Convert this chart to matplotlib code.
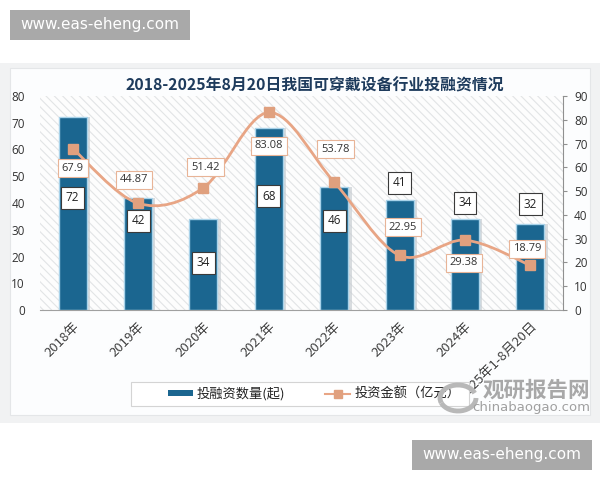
import numpy as np
import matplotlib
matplotlib.use('Agg')
import matplotlib.pyplot as plt
from matplotlib.path import Path
from matplotlib.patches import PathPatch, Rectangle, Arc
from matplotlib.lines import Line2D

plt.rcParams['font.family'] = ['Noto Sans CJK SC', 'DejaVu Sans']
plt.rcParams['hatch.color'] = '#e2e4e6'
plt.rcParams['hatch.linewidth'] = 0.8

# data
years = ['2018年', '2019年', '2020年', '2021年', '2022年', '2023年', '2024年', '2025年1-8月20日']
deals = [72, 42, 34, 68, 46, 41, 34, 32]
amount = [67.9, 44.87, 51.42, 83.08, 53.78, 22.95, 29.38, 18.79]
title = '2018-2025年8月20日我国可穿戴设备行业投融资情况'

BAR = '#1b6690'
LINE = '#e8a585'
MARK = '#e0a07e'
NUMFONT = 'Open Sans'

fig = plt.figure(figsize=(6, 4.8), dpi=100)
fig.patch.set_facecolor('white')

def fig_rect(x0, y0, x1, y1, **kw):
    # pixel box (top-left origin) -> figure rectangle
    r = Rectangle((x0 / 600, 1 - y1 / 480), (x1 - x0) / 600, (y1 - y0) / 480,
                  transform=fig.transFigure, **kw)
    fig.patches.append(r)
    return r

# outer panel and shadow
fig_rect(0, 63, 600, 423, facecolor='#f1f2f3', edgecolor='none', zorder=-3)
fig_rect(10, 68, 590, 415, facecolor='#fcfdfe', edgecolor='#e4e6e8', linewidth=0.8, zorder=-2)

ax = fig.add_axes([40 / 600, 1 - 310 / 480, 523 / 600, 214 / 480])
ax2 = ax.twinx()

x = np.arange(len(years))
ax.patch.set_facecolor('#fdfdfd')
ax.patch.set_hatch('\\\\\\\\')
ax.patch.set_edgecolor('#e2e4e6')
ax.patch.set_linewidth(0)

# bars with a faint shadow
ax.bar(x + 0.05, deals, width=0.43, color='#c9ced3', zorder=1, alpha=0.7)
ax.bar(x, deals, width=0.43, color=BAR, edgecolor='#a9d3ea', linewidth=1.0, zorder=2)
ax.set_ylim(0, 80)
ax.set_xlim(-0.5, len(years) - 0.5)
ax.set_yticks(range(0, 81, 10))
ax.set_yticklabels([str(v) for v in range(0, 81, 10)], family=NUMFONT)
ax.tick_params(axis='y', length=0, pad=11, labelsize=8.5, colors='#333333')
ax.set_xticks(x)
ax.set_xticklabels(years, rotation=45, ha='right', va='top', rotation_mode='anchor',
                   fontsize=9.5, color='#404040')
ax.tick_params(axis='x', length=0, pad=7)
for s in ['top', 'right', 'left']:
    ax.spines[s].set_visible(False)
ax.spines['bottom'].set_color('#a0a0a0')

# smooth line (catmull-rom style bezier through the points)
pts = np.column_stack([x, amount])
verts = [pts[0]]
codes = [Path.MOVETO]
for i in range(len(pts) - 1):
    p0 = pts[i - 1] if i > 0 else pts[i]
    p3 = pts[i + 2] if i + 2 < len(pts) else pts[i + 1]
    c1 = pts[i] + (pts[i + 1] - p0) / 6
    c2 = pts[i + 1] - (p3 - pts[i]) / 6
    verts += [c1, c2, pts[i + 1]]
    codes += [Path.CURVE4] * 3
ax2.add_patch(PathPatch(Path(verts, codes), facecolor='none', edgecolor=LINE, linewidth=2.0, zorder=3))
ax2.plot(x, amount, linestyle='none', marker='s', markersize=6.5, color=MARK, zorder=4)
ax2.set_ylim(0, 90)
ax2.set_yticks(range(0, 91, 10))
ax2.set_yticklabels([str(v) for v in range(0, 91, 10)], family=NUMFONT)
ax2.tick_params(axis='y', length=3, pad=5, labelsize=8.5, labelcolor='#333333', color='#909090')
for s in ['top', 'left', 'bottom']:
    ax2.spines[s].set_visible(False)
ax2.spines['right'].set_color('#909090')

# bar labels (drawn on ax2 so they stay above the line)
bar_box = dict(boxstyle='square,pad=0.4', facecolor='white', edgecolor='#3a3a3a', linewidth=0.8)
bar_label_y = [41.9, 33.3, 17.6, 42.6, 33.3, 47.5, 40, 39.6]
for i, v in enumerate(deals):
    ax2.text(x[i], bar_label_y[i] * 90 / 80, str(v), ha='center', va='center', fontsize=8.5,
             family=NUMFONT, color='#222222', bbox=bar_box, zorder=6)

# line labels
line_box = dict(boxstyle='square,pad=0.35', facecolor='white', edgecolor='#e8b497', linewidth=0.8)
line_label_y = [59.7, 54.7, 60.1, 69, 67.7, 34.9, 19.8, 25.7]
line_label_dx = [0, -0.06, 0.03, 0, 0.02, 0.05, -0.02, -0.05]
for i, v in enumerate(amount):
    ax2.text(x[i] + line_label_dx[i], line_label_y[i], str(v), ha='center', va='center', fontsize=8,
             family=NUMFONT, color='#333333', bbox=line_box, zorder=7)

# title
fig.text(315 / 600, 1 - 85 / 480, title, ha='center', va='center', fontsize=11.4,
         fontweight='bold', color='#1e3b5c')

# legend (frame drawn separately)
fig_rect(131, 382, 469, 406, facecolor='white', edgecolor='#d4d4d4', linewidth=0.8, zorder=1)
handles = [Rectangle((0, 0), 1, 1, facecolor=BAR),
           Line2D([], [], color=LINE, linewidth=1.5, marker='s', markersize=6, markerfacecolor=MARK,
                  markeredgecolor=MARK)]
leg = fig.legend(handles, ['投融资数量(起)', '投资金额（亿元）'], loc='center left',
                 bbox_to_anchor=(168 / 600, 1 - 394 / 480), ncol=2, frameon=False, fontsize=9.5,
                 columnspacing=3.0, handlelength=1.9, handleheight=0.35, handletextpad=0.3,
                 borderpad=0, borderaxespad=0)
for t in leg.get_texts():
    t.set_color('#222222')

# watermark of the source site
fig.text(590 / 600, 1 - 390 / 480, '观研报告网', ha='right', va='center', fontsize=15.5,
         fontweight='bold', color='#a8a8a8', zorder=8)
fig.text(590 / 600, 1 - 407 / 480, 'chinabaogao.com', ha='right', va='center', fontsize=9.5,
         color='#a0a0a0', family='DejaVu Sans', zorder=8)
for a1, a2 in [(20, 200), (200, 360)]:
    fig.patches.append(Arc((458 / 600, 1 - 398 / 480), 36 / 600, 26 / 480, theta1=a1, theta2=a2,
                           transform=fig.transFigure, color='#b8b8b8', linewidth=3.5, zorder=8))

# watermark boxes
for bx, by in [(10, 10), (412, 440)]:
    fig_rect(bx, by, bx + 180, by + 30, facecolor='#a9a9a9', edgecolor='none', zorder=5)
    fig.text((bx + 90) / 600, 1 - (by + 15) / 480, 'www.eas-eheng.com', ha='center', va='center',
             fontsize=11, color='white', family='DejaVu Sans', zorder=6)

fig.savefig('out.png', dpi=100)
